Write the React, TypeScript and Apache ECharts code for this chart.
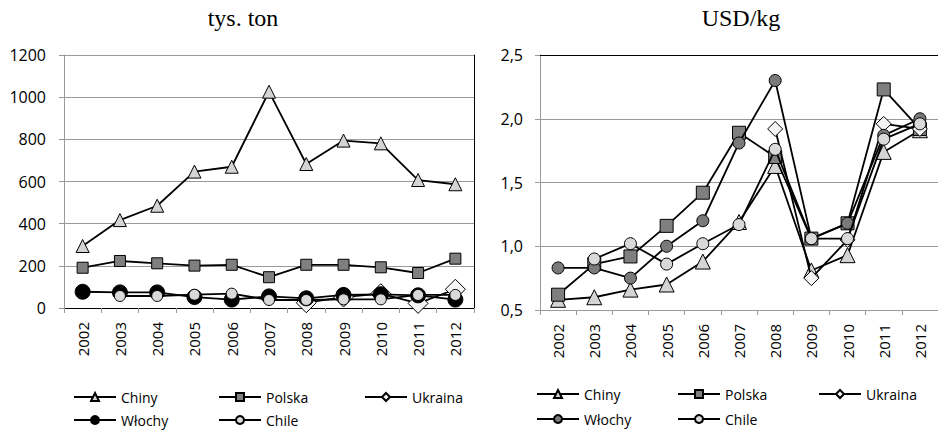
import { useEffect, useRef } from 'react';
import * as echarts from 'echarts';

const years = ['2002', '2003', '2004', '2005', '2006', '2007', '2008', '2009', '2010', '2011', '2012'];

// Left chart: tys. ton
const chinyQty = [294, 417, 485, 647, 670, 1026, 683, 794, 781, 607, 587];
const polskaQty = [191, 223, 212, 201, 205, 146, 205, 205, 193, 166, 234];
const ukrainaQty = [null, null, null, null, null, null, 25, 52, 68, 22, 89];
const wlochyQty = [77, 74, 74, 52, 40, 55, 46, 62, 65, 60, 40];
const chileQty = [null, 57, 57, 63, 68, 38, 38, 41, 41, 62, 62];

// Right chart: USD/kg
const chinyPrice = [0.58, 0.6, 0.66, 0.7, 0.88, 1.19, 1.63, 0.81, 0.93, 1.74, 1.91];
const polskaPrice = [0.62, 0.86, 0.92, 1.16, 1.42, 1.89, 1.7, 1.06, 1.18, 2.23, 1.92];
const ukrainaPrice = [null, null, null, null, null, null, 1.92, 0.75, 1.05, 1.96, 1.92];
const wlochyPrice = [0.83, 0.83, 0.75, 1.0, 1.2, 1.81, 2.3, 1.06, 1.18, 1.87, 2.0];
const chilePrice = [null, 0.9, 1.02, 0.86, 1.02, 1.17, 1.76, 1.06, 1.06, 1.84, 1.96];

const titles = ['tys. ton', 'USD/kg'];
const seriesNames = ['Chiny', 'Polska', 'Ukraina', 'Włochy', 'Chile'];

const SANS = "'Open Sans', 'Liberation Sans', sans-serif";
const SERIF = "'Liberation Serif', 'DejaVu Serif', serif";
const GRID_GRAY = '#9a9a9a';

const styles = [
  { symbol: 'triangle', fill: '#d4d4d4' },
  { symbol: 'rect', fill: '#7f7f7f' },
  { symbol: 'diamond', fill: '#f4f4f4' },
  { symbol: 'circle', fill: '#000000' },
  { symbol: 'circle', fill: '#d9d9d9' },
];
const leftSizes = [13, 11, 20, 15, 11];
const rightSizes = [15, 13, 15, 12, 12];
const rightWlochyFill = '#7a7a7a';

function makeSeries(name: string, data: (number | null)[], idx: number, styleIdx: number, size: number, fill: string) {
  return {
    name,
    type: 'line',
    xAxisIndex: idx,
    yAxisIndex: idx,
    data,
    symbol: styles[styleIdx].symbol,
    symbolSize: size,
    showAllSymbol: true,
    connectNulls: false,
    lineStyle: { color: '#000', width: 1.8 },
    itemStyle: { color: fill, borderColor: '#000', borderWidth: 1 },
    emphasis: { disabled: true },
    z: 2 + styleIdx,
  };
}

function makeLegend(name: string, left: number, top: number, fill?: string) {
  return {
    data: [fill ? { name, itemStyle: { color: fill, borderColor: '#000' } } : name],
    left,
    top,
    padding: 0,
    itemWidth: 42,
    itemHeight: 10,
    selectedMode: false,
    textStyle: { fontSize: 14, fontFamily: SANS, color: '#000' },
  };
}

function xAxisMain(gridIndex: number) {
  return {
    type: 'category',
    gridIndex,
    data: years,
    boundaryGap: true,
    axisLine: { show: true, lineStyle: { color: GRID_GRAY, width: 1 } },
    axisTick: { show: true, length: 5, lineStyle: { color: GRID_GRAY } },
    axisLabel: { rotate: 90, margin: 14, fontSize: 15, fontFamily: SANS, color: '#000' },
    splitLine: { show: false },
  };
}

function xAxisTop(gridIndex: number) {
  return {
    type: 'category',
    gridIndex,
    data: years,
    position: 'top',
    axisLine: { show: true, lineStyle: { color: '#000', width: 1 } },
    axisTick: { show: false },
    axisLabel: { show: false },
    splitLine: { show: false },
  };
}

function yAxisMain(gridIndex: number, min: number, max: number, interval: number, fmt: (v: number) => string, margin: number) {
  return {
    type: 'value',
    gridIndex,
    min,
    max,
    interval,
    axisLine: { show: true, lineStyle: { color: GRID_GRAY, width: 1 } },
    axisTick: { show: true, length: 5, lineStyle: { color: GRID_GRAY } },
    axisLabel: { margin, fontSize: 16, fontFamily: SANS, color: '#000', formatter: fmt },
    splitLine: { show: true, lineStyle: { color: GRID_GRAY, width: 1.2 } },
  };
}

function yAxisRight(gridIndex: number, min: number, max: number) {
  return {
    type: 'value',
    gridIndex,
    min,
    max,
    position: 'right',
    axisLine: { show: true, lineStyle: { color: '#000', width: 1 } },
    axisTick: { show: false },
    axisLabel: { show: false },
    splitLine: { show: false },
  };
}

export default function App() {
  const ref = useRef<HTMLDivElement>(null);
  useEffect(() => {
    if (!ref.current) return;
    const chart = echarts.init(ref.current, null, { renderer: 'svg' });
    const leftData = [chinyQty, polskaQty, ukrainaQty, wlochyQty, chileQty];
    const rightData = [chinyPrice, polskaPrice, ukrainaPrice, wlochyPrice, chilePrice];
    const series: any[] = [];
    seriesNames.forEach((n, i) => series.push(makeSeries(n, leftData[i], 0, i, leftSizes[i], styles[i].fill)));
    seriesNames.forEach((n, i) =>
      series.push(makeSeries(n, rightData[i], 1, i, rightSizes[i], i === 3 ? rightWlochyFill : styles[i].fill))
    );
    const leftLegPos = [[73, 390], [218, 390], [364, 390], [73, 413], [218, 413]];
    const rightLegPos = [[536, 387], [677, 387], [818, 387], [536, 412], [677, 412]];
    const legends = [
      ...seriesNames.map((n, i) => makeLegend(n, leftLegPos[i][0], leftLegPos[i][1])),
      ...seriesNames.map((n, i) => makeLegend(n, rightLegPos[i][0], rightLegPos[i][1], i === 3 ? rightWlochyFill : undefined)),
    ];
    chart.setOption({
      animation: false,
      backgroundColor: '#fff',
      title: [
        { text: titles[0], left: 243, top: 6, textAlign: 'center', padding: 0, textStyle: { fontSize: 24, fontWeight: 'normal', fontFamily: SERIF, color: '#000' } },
        { text: titles[1], left: 741, top: 6, textAlign: 'center', padding: 0, textStyle: { fontSize: 24, fontWeight: 'normal', fontFamily: SERIF, color: '#000' } },
      ],
      legend: legends,
      grid: [
        { left: 64, top: 55, width: 410, height: 253 },
        { left: 540, top: 55, width: 405, height: 255 },
      ],
      xAxis: [xAxisMain(0), xAxisMain(1), xAxisTop(0), xAxisTop(1)],
      yAxis: [
        yAxisMain(0, 0, 1200, 200, (v: number) => String(v), 18),
        yAxisMain(1, 0.5, 2.5, 0.5, (v: number) => v.toFixed(1).replace('.', ','), 17),
        yAxisRight(0, 0, 1200),
        yAxisRight(1, 0.5, 2.5),
      ],
      series,
    });
    return () => chart.dispose();
  }, []);
  return <div ref={ref} style={{ position: 'fixed', left: 0, top: 0, width: 938, height: 430 }} />;
}
